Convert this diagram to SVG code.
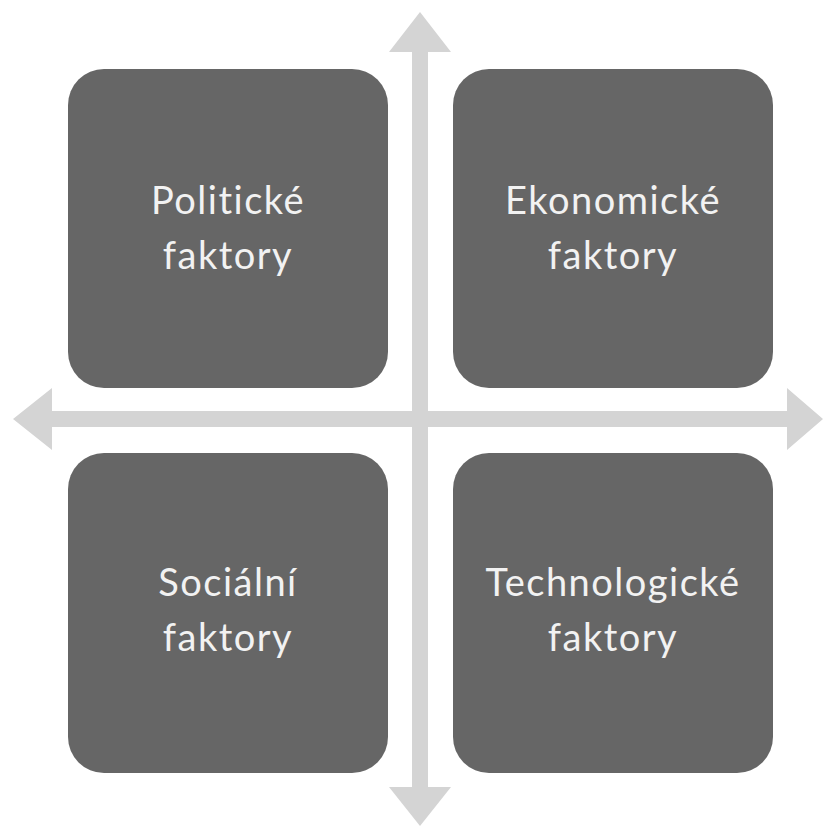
<svg xmlns="http://www.w3.org/2000/svg" width="824" height="827" viewBox="0 0 824 827">
<style>
.box{fill:#666666}
.arrow{fill:#d4d4d4}
.lbl{font-family:Lato,"Open Sans","Liberation Sans",sans-serif;font-size:38px;letter-spacing:1.5px;font-variant-ligatures:none;fill:#f2f2f2;text-anchor:middle}
</style>
<rect width="824" height="827" fill="#ffffff"/>
<g id="connectors">
<polygon class="arrow" points="420,12 451,52 428,52 428,787 451,787 420,826 389,787 412,787 412,52 389,52"/>
<polygon class="arrow" points="13,419 52,388 52,411 787,411 787,388 823,419 787,450 787,427 52,427 52,450"/>
</g>
<g id="political">
<rect class="box" x="68" y="69" width="320" height="319" rx="36"/>
<text class="lbl" x="228" y="214">Politické</text>
<text class="lbl" x="228" y="269">faktory</text>
</g>
<g id="economic">
<rect class="box" x="453" y="69" width="320" height="319" rx="36"/>
<text class="lbl" x="613" y="214">Ekonomické</text>
<text class="lbl" x="613" y="269">faktory</text>
</g>
<g id="social">
<rect class="box" x="68" y="453" width="320" height="320" rx="36"/>
<text class="lbl" x="228" y="596">Sociální</text>
<text class="lbl" x="228" y="651">faktory</text>
</g>
<g id="technological">
<rect class="box" x="453" y="453" width="320" height="320" rx="36"/>
<text class="lbl" x="613" y="596">Technologické</text>
<text class="lbl" x="613" y="651">faktory</text>
</g>
</svg>
